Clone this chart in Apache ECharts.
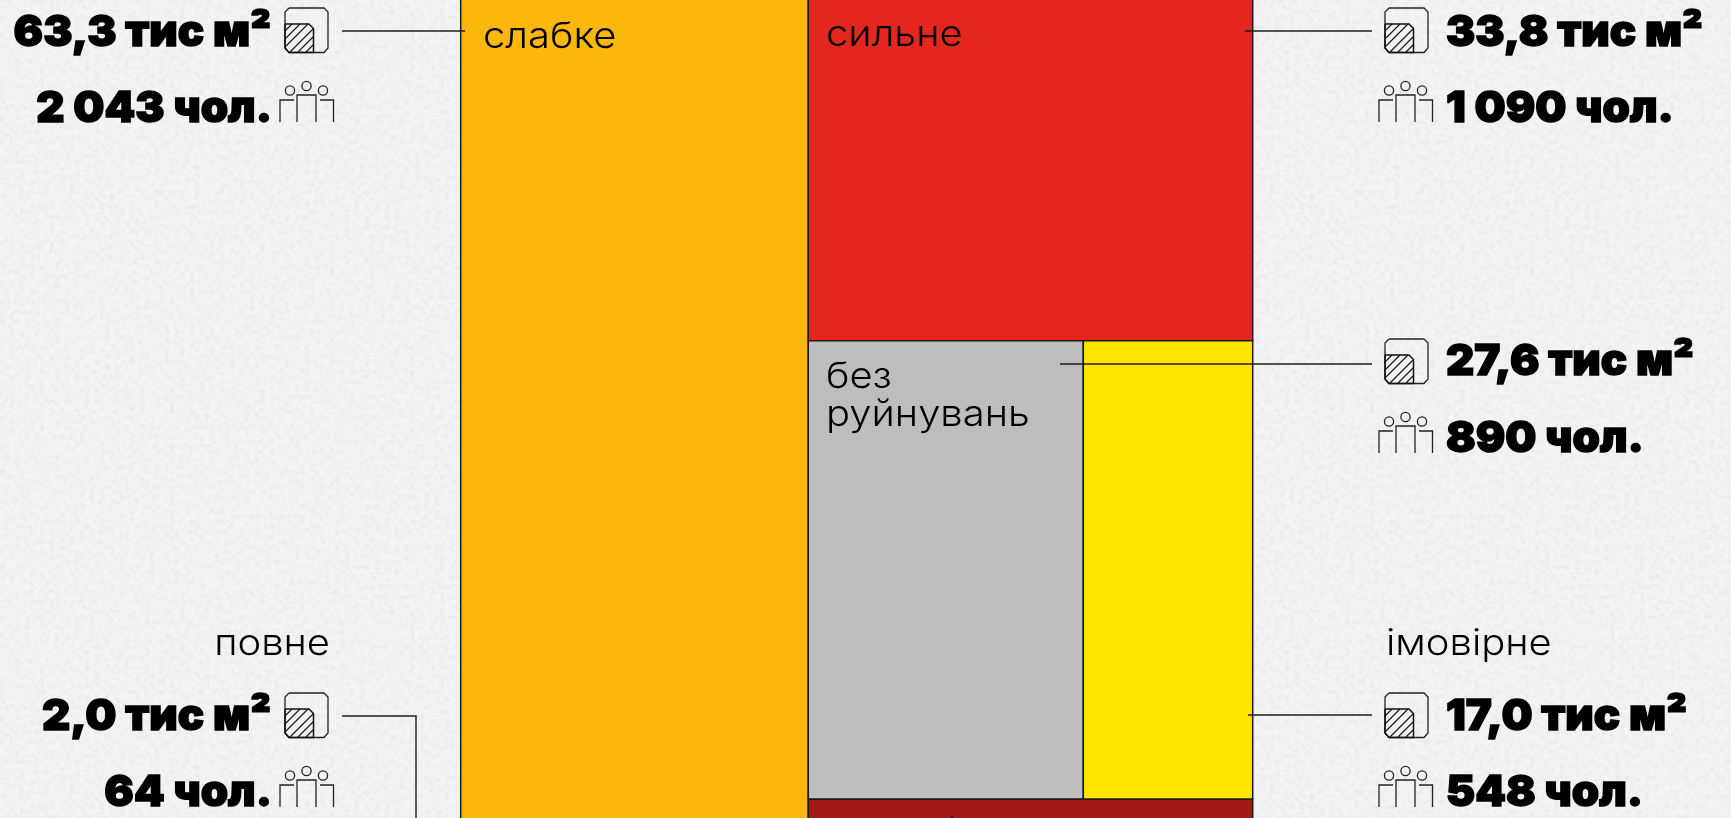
<!DOCTYPE html>
<html><head><meta charset="utf-8">
<script src="https://cdn.jsdelivr.net/npm/echarts@6/dist/echarts.min.js"></script>
<style>
html,body{margin:0;padding:0;width:1731px;height:818px;overflow:hidden;background-color:#f4f4f5;}
body{background-image:url("data:image/svg+xml;utf8,<svg xmlns='http://www.w3.org/2000/svg' width='600' height='600'><filter id='n' x='0' y='0' width='100%' height='100%'><feTurbulence type='fractalNoise' baseFrequency='0.2' numOctaves='3' seed='7'/><feColorMatrix values='0 0 0 0 0.62 0 0 0 0 0.62 0 0 0 0 0.65 0.45 0.45 0 0 -0.38'/></filter><rect width='600' height='600' filter='url(%23n)'/></svg>");}
#c{width:1731px;height:818px;}
</style></head><body><div id="c"></div>
<script>
// --- data ---
const categories = ['слабке', 'сильне', 'без руйнувань', 'імовірне', 'повне'];
const areas = [63.3, 33.8, 27.6, 17.0, 2.0];           // тис м²
const people = [2043, 1090, 890, 548, 64];             // чол.
const areaLabels = ['63,3 тис м²', '33,8 тис м²', '27,6 тис м²', '17,0 тис м²', '2,0 тис м²'];
const peopleLabels = ['2 043 чол.', '1 090 чол.', '890 чол.', '548 чол.', '64 чол.'];
const colors = ['#fbb80b', '#e5261f', '#bdbdbd', '#ffe500', '#a01a18'];

// --- slice-and-dice layout derived only from the values ---
const total = areas.reduce((a, b) => a + b, 0);
const right = areas[1] + areas[2] + areas[3] + areas[4];
const mid = areas[2] + areas[3];
const leftInset = 0.42; // small outer margin of the first column, in axis units
const cells = [
  [leftInset, areas[0], 0, 1],
  [areas[0], total, 0, areas[1] / right],
  [areas[0], areas[0] + right * areas[2] / mid, areas[1] / right, (areas[1] + mid) / right],
  [areas[0] + right * areas[2] / mid, total, areas[1] / right, (areas[1] + mid) / right],
  [areas[0], total, (areas[1] + mid) / right, 1]
];

const T = (text, x, y, size, weight, align, sx) => ({
  type: 'text', z: 50, silent: true, x, y, scaleX: sx || 1,
  style: { text, x: 0, y: 0, fill: '#000', font: `${weight} ${size}px Inter, "Noto Sans", sans-serif`, align: align, verticalAlign: 'middle',
    stroke: weight >= 900 ? '#000' : 'transparent', lineWidth: weight >= 900 ? 1.5 : 0 }
});
const B = (text, x, y, align) => T(text, x, y, 43, 900, align, 1.02);
const N = (text, x, y, align) => T(text, x, y, 36, 300, align, 1.11);
const L = (pts, w) => ({
  type: 'polyline', z: 40, silent: true,
  shape: { points: pts }, style: { stroke: '#1c1c1c', lineWidth: w || 1.4, fill: null }
});
const off = (pts, x, y) => pts.map(p => [p[0] + x, p[1] + y]);
const outline = [[4, 0], [39, 0], [43, 4], [43, 40], [39, 44.5], [4, 44.5], [0, 40], [0, 4], [4, 0]];
const inner = [[0, 16], [24, 16], [28.5, 20.5], [28.5, 44.5], [4, 44.5], [0, 40], [0, 16]];
const hatchLines = [
  [[0, 23], [7, 16]], [[0, 31], [15, 16]], [[0, 39], [23, 16]],
  [[5, 44], [28, 21]], [[13, 44], [28, 29]], [[21, 44], [28, 37]]
];
function areaIcon(x, y) {
  const poly = (pts, w, c) => ({ type: 'polyline', z: 45, silent: true, shape: { points: off(pts, x, y) }, style: { stroke: c, lineWidth: w, fill: null } });
  return [poly(outline, 1.3, '#222'), poly(inner, 1.5, '#111')].concat(hatchLines.map(h => poly(h, 1.1, '#111')));
}
function peopleIcon(x, y) {
  const s = { stroke: '#222', lineWidth: 1.3, fill: null };
  return [
    { type: 'circle', z: 45, silent: true, shape: { cx: x + 10, cy: y + 9.5, r: 4.6 }, style: s },
    { type: 'circle', z: 45, silent: true, shape: { cx: x + 26.5, cy: y + 5, r: 4.6 }, style: s },
    { type: 'circle', z: 45, silent: true, shape: { cx: x + 43, cy: y + 9.5, r: 4.6 }, style: s },
    { type: 'polyline', z: 45, silent: true, shape: { points: [[x, y + 41], [x, y + 19], [x + 14, y + 19]] }, style: s },
    { type: 'polyline', z: 45, silent: true, shape: { points: [[x + 17, y + 41], [x + 17, y + 14], [x + 36, y + 14], [x + 36, y + 41]] }, style: s },
    { type: 'polyline', z: 45, silent: true, shape: { points: [[x + 40, y + 19], [x + 53.5, y + 19], [x + 53.5, y + 41]] }, style: s }
  ];
}

const graphics = [
  // left column
  B(areaLabels[0], 271, 33, 'right'), B(peopleLabels[0], 272, 109, 'right'),
  ...areaIcon(285, 8), ...peopleIcon(280, 81),
  L([[342, 31], [465, 31]]),
  N(categories[4], 330, 644, 'right'),
  B(areaLabels[4], 271, 717, 'right'), B(peopleLabels[4], 272, 793, 'right'),
  ...areaIcon(285, 693), ...peopleIcon(280, 766),
  L([[342, 716], [416, 716], [416, 818]]),
  // right column
  B(areaLabels[1], 1446, 33, 'left'), B(peopleLabels[1], 1446, 109, 'left'),
  ...areaIcon(1385, 8), ...peopleIcon(1379, 81),
  L([[1245, 31], [1372, 31]]),
  B(areaLabels[2], 1446, 362, 'left'), B(peopleLabels[2], 1446, 439, 'left'),
  ...areaIcon(1385, 339), ...peopleIcon(1379, 412),
  L([[1060, 364], [1372, 364]]),
  N(categories[3], 1386, 644, 'left'),
  B(areaLabels[3], 1446, 717, 'left'), B(peopleLabels[3], 1446, 793, 'left'),
  ...areaIcon(1385, 693), ...peopleIcon(1379, 766),
  L([[1248, 715], [1372, 715]]),
  L([[952, 816], [952, 818]], 1.5),
  // labels inside cells
  N(categories[0], 483, 37, 'left'),
  N(categories[1], 826, 35, 'left'),
  N('без', 826, 377, 'left'),
  N('руйнувань', 826, 415, 'left')
];

const chart = echarts.init(document.getElementById('c'), null, { renderer: 'canvas' });
chart.setOption({
  animation: false,
  backgroundColor: 'transparent',
  grid: { left: 458.4, width: 794.3, top: -6.8, height: 826.7, containLabel: false, outerBoundsMode: 'none' },
  xAxis: { type: 'value', min: 0, max: total, show: false },
  yAxis: { type: 'value', min: 0, max: 1, inverse: true, show: false },
  series: [{
    type: 'custom',
    clip: false,
    silent: true,
    data: cells.map((c, i) => ({ value: [c[0], c[1], c[2], c[3], areas[i], people[i]], name: categories[i] })),
    encode: { x: [0, 1], y: [2, 3] },
    renderItem: function (params, api) {
      const p0 = api.coord([api.value(0), api.value(2)]);
      const p1 = api.coord([api.value(1), api.value(3)]);
      return {
        type: 'rect',
        shape: { x: p0[0], y: p0[1], width: p1[0] - p0[0], height: p1[1] - p0[1] },
        style: { fill: colors[params.dataIndex], stroke: '#1a1a1a', lineWidth: 1.5 }
      };
    }
  }],
  graphic: graphics
});
</script></body></html>
